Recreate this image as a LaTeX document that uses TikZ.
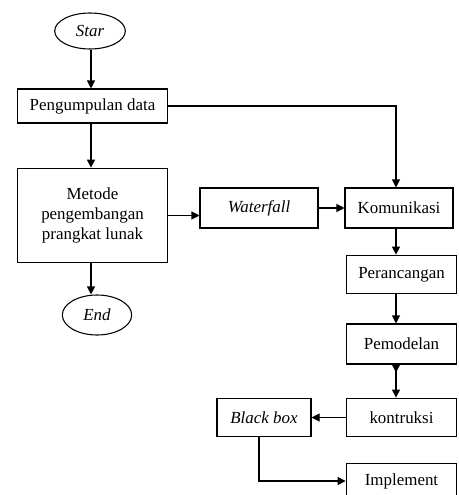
\documentclass[tikz,border=0pt]{standalone}
\usepackage{fontspec}
\setmainfont{Liberation Serif}
\usetikzlibrary{shapes.geometric,arrows.meta}

\tikzset{
    box/.style={draw, line width=0.8pt, rectangle, inner sep=0.75pt, align=center},
    oval/.style={draw, line width=0.8pt, ellipse, inner sep=0.75pt},
    arr/.style={line width=0.8pt, -{Triangle[length=6pt,width=6pt]}},
}

\begin{document}
\begin{tikzpicture}[x=0.75pt,y=0.75pt,yscale=-1,xscale=1,
        every node/.append style={font=\fontsize{12.7}{14.8}\selectfont}]
        \useasboundingbox (0,0) rectangle (458,495);

        %Columns of the vertical lines
        \coordinate (lcol) at (91,0);
        \coordinate (rcol) at (396,0);
        \coordinate (bcol) at (259,0);

        %Shape: Ellipse
        \node [oval, minimum width=53pt, minimum height=27pt] (star) at (90,31) {\textit{Star}};
        %Shape: Rectangle
        \node [box, minimum width=113pt, minimum height=25.5pt] (peng) at (92.5,106) {Pengumpulan data};
        %Shape: Rectangle
        \node [box, minimum width=113pt, minimum height=71pt] (metode) at (92.5,215.5) {Metode\\pengembangan\\prangkat lunak};
        %Shape: Ellipse
        \node [oval, minimum width=52pt, minimum height=30pt] (end) at (97,315) {\textit{End}};

        %Shape: Rectangle
        \node [box, minimum width=88.5pt, minimum height=30pt] (waterfall) at (259,208) {\textit{Waterfall}};
        %Shape: Rectangle
        \node [box, minimum width=81pt, minimum height=30pt] (komunikasi) at (399,208) {Komunikasi};
        %Shape: Rectangle
        \node [box, minimum width=83pt, minimum height=29pt] (perancangan) at (401.5,274.5) {Perancangan};
        %Shape: Rectangle
        \node [box, minimum width=83pt, minimum height=30pt] (pemodelan) at (401.5,344) {Pemodelan};
        %Shape: Rectangle
        \node [box, minimum width=83pt, minimum height=29pt] (kontruksi) at (401.5,417.5) {kontruksi};
        %Shape: Rectangle
        \node [box, minimum width=70.5pt, minimum height=29pt] (blackbox) at (264,417.5) {\textit{Black box}};
        %Shape: Rectangle
        \node [box, minimum width=83pt, minimum height=26pt] (implement) at (401.5,481) {Implement};

        %Straight Lines
        \draw [arr] (star.south -| lcol) -- (peng.north -| lcol);
        \draw [arr] (peng.south -| lcol) -- (metode.north -| lcol);
        \draw [arr] (metode.south -| lcol) -- (end.north -| lcol);
        \draw [arr] (peng.east) -| (komunikasi.north -| rcol);
        \draw [arr] (metode.east) -- (waterfall.west |- metode.east);
        \draw [arr] (waterfall) -- (komunikasi);
        \draw [arr] (komunikasi.south -| rcol) -- (perancangan.north -| rcol);
        \draw [arr] (perancangan.south -| rcol) -- (pemodelan.north -| rcol);
        \coordinate (tip) at ([yshift=6pt]pemodelan.south -| rcol);
        \draw [arr] (pemodelan.south -| rcol) -- (tip);
        \draw [arr] (pemodelan.south -| rcol) -- (kontruksi.north -| rcol);
        \draw [arr] (kontruksi) -- (blackbox);
        \draw [arr] (blackbox.south -| bcol) |- (implement.west);

\end{tikzpicture}
\end{document}
